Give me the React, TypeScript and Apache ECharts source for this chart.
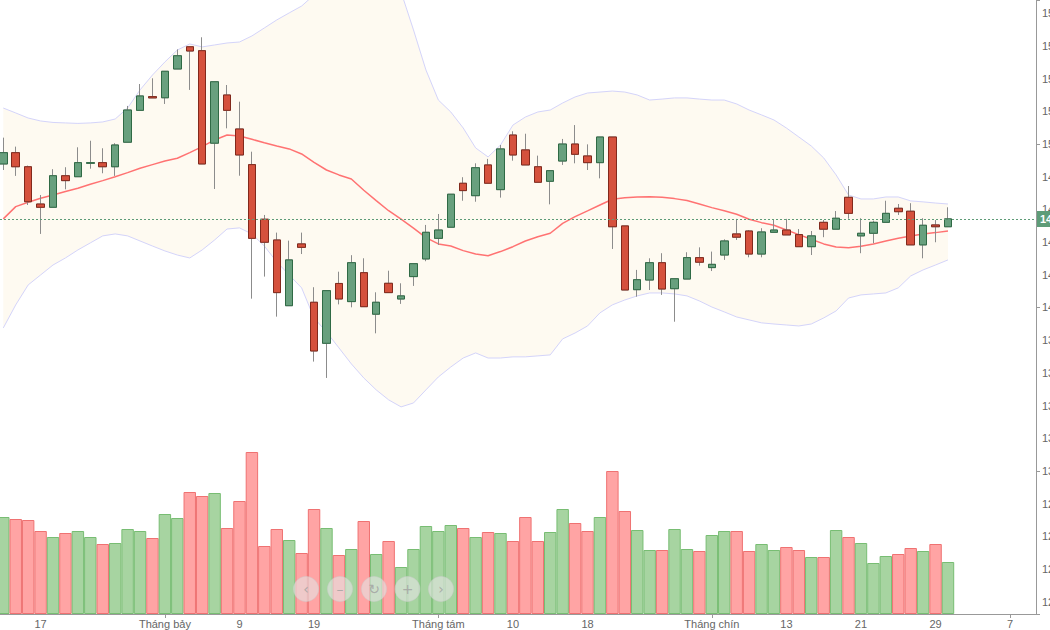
import React, { useEffect, useRef } from "react";
import * as echarts from "echarts";

const opens = [148.78,149.47,148.61,146.33,146.13,148.06,148.00,148.82,148.86,148.61,
150.11,152.06,152.90,152.83,154.59,155.95,155.71,150.05,153.00,150.92,
148.74,145.40,144.13,140.11,143.89,140.32,137.81,141.47,140.36,142.13,
139.59,141.48,140.52,141.89,142.97,144.23,144.91,147.60,146.84,148.72,
147.21,150.55,149.64,148.61,147.72,148.96,150.00,149.27,148.86,150.43,
144.99,141.09,141.68,142.74,141.15,141.74,143.05,142.44,143.21,144.50,
144.68,143.27,144.60,144.74,144.46,143.72,145.21,144.79,146.74,144.38,
144.54,145.21,146.07,145.89,143.83,145.05,144.94];

const closes = [149.47,148.61,146.47,146.13,148.06,147.76,148.86,148.86,148.61,149.94,
152.08,152.94,152.82,154.45,155.40,155.69,148.78,153.81,152.06,149.33,
144.23,143.99,140.91,142.91,143.68,137.34,141.03,140.52,142.74,140.05,
140.32,140.91,140.71,142.68,144.60,144.74,146.93,147.15,148.55,147.60,
149.70,149.33,148.72,147.66,148.37,150.00,149.37,148.86,150.43,144.94,
141.07,141.70,142.74,141.13,141.76,143.05,142.77,142.64,144.07,144.30,
143.27,144.62,144.74,144.44,143.72,144.38,144.79,145.46,145.76,144.54,
145.21,145.76,145.86,143.83,145.03,144.94,145.42];

const lows = [148.41,148.05,146.27,144.50,146.13,147.23,148.00,148.49,148.21,148.05,
150.11,152.06,152.82,152.45,154.59,153.31,148.78,147.25,150.96,148.06,
140.54,141.89,139.44,140.11,143.27,136.69,135.69,140.19,140.01,140.05,
138.42,140.91,140.22,141.32,142.83,143.83,144.91,146.53,146.47,147.60,
146.72,148.98,148.72,147.66,146.31,148.72,148.82,148.41,147.90,143.58,
141.07,140.66,141.07,140.77,139.13,141.74,142.56,142.23,142.91,144.13,
143.07,143.07,144.60,144.44,143.72,143.21,144.30,144.79,145.43,143.32,
143.93,145.21,145.66,143.83,143.01,143.99,144.94];

const highs = [150.39,149.84,148.68,146.88,148.46,148.58,149.80,150.20,149.74,150.05,
152.33,153.67,154.02,154.45,155.79,155.95,156.53,153.81,153.61,152.59,
149.53,145.66,144.58,144.09,144.58,141.24,141.03,142.19,143.20,143.01,
140.93,142.25,141.48,142.68,145.05,145.72,146.93,147.97,148.82,149.09,
149.94,150.78,150.63,149.29,148.37,150.31,151.16,149.98,150.43,150.43,
144.99,142.30,143.01,143.32,141.76,143.38,143.68,143.42,144.17,145.42,
144.74,144.85,145.35,145.42,144.80,144.68,145.35,145.90,147.43,145.46,
145.31,146.53,146.33,146.38,145.46,145.35,146.13];

const volumes = [1455,1425,1410,1245,1155,1215,1245,1155,1050,1065,
1275,1245,1140,1500,1440,1830,1770,1815,1290,1695,
2430,1020,1275,1110,915,1575,1290,885,975,1395,
900,1095,705,975,1320,1245,1335,1290,1155,1230,
1215,1095,1455,1095,1230,1575,1365,1245,1455,2145,
1545,1260,960,960,1275,975,945,1185,1245,1245,
945,1050,960,1005,960,855,855,1260,1155,1065,
765,870,900,990,945,1050,780];

const smaValues = [145.42,146.17,146.44,146.68,146.88,147.09,147.29,147.54,147.76,148.00,
148.25,148.52,148.74,148.96,149.13,149.47,149.84,150.25,150.55,150.49,
150.29,150.08,149.88,149.70,149.39,148.88,148.41,148.11,147.86,147.17,
146.54,145.92,145.40,144.85,144.27,143.89,143.76,143.48,143.27,143.17,
143.42,143.72,144.07,144.33,144.54,145.15,145.56,145.91,146.27,146.62,
146.72,146.76,146.78,146.74,146.66,146.54,146.33,146.11,145.92,145.70,
145.40,145.19,145.03,144.74,144.46,144.17,143.89,143.70,143.66,143.75,
143.89,144.07,144.24,144.38,144.50,144.58,144.68];

const upperBand = [152.20,151.90,151.59,151.41,151.32,151.29,151.26,151.29,151.35,151.53,
152.20,153.31,154.22,155.02,155.75,156.12,155.94,156.06,156.18,156.24,
156.61,157.10,157.59,158.02,158.44,159.12,160.03,160.65,160.95,161.13,
160.95,160.34,159.30,156.98,154.53,152.69,151.96,150.98,149.76,149.21,
149.94,151.16,151.65,151.96,152.08,152.51,152.88,153.12,153.18,153.24,
153.18,153.00,152.69,152.75,152.82,152.82,152.75,152.69,152.69,152.45,
152.08,151.78,151.47,150.98,150.43,149.88,149.15,148.11,146.88,146.64,
146.64,146.76,146.76,146.52,146.46,146.39,146.33];

const lowerBand = [138.75,140.16,141.38,141.99,142.60,143.03,143.52,143.95,144.38,144.50,
144.38,144.07,143.76,143.46,143.21,143.03,143.52,144.13,144.80,144.87,
144.50,143.76,142.79,141.99,141.20,139.36,138.50,137.53,136.55,135.69,
134.96,134.35,133.92,134.16,134.96,135.75,136.36,136.91,137.22,136.91,
136.91,136.98,136.98,137.04,137.10,138.08,138.44,138.87,139.67,140.16,
140.46,140.71,140.89,140.89,140.83,140.71,140.40,140.03,139.73,139.42,
139.24,139.06,138.99,138.93,138.87,138.99,139.36,139.79,140.58,140.77,
140.83,140.89,141.20,141.93,142.30,142.60,142.91];

const xTickValues = [3, 13, 19, 25, 35, 41, 47, 57, 63, 69, 75, 81];
const xTickLabels = ["17", "Tháng bảy", "9", "19", "Tháng tám", "10", "18", "Tháng chín", "13", "21", "29", "7"];
const xMajorTicks = [13, 35, 57, 81];
const yTickValues = [122, 124, 126, 128, 130, 132, 134, 136, 138, 140, 142, 144, 146, 148, 150, 152, 154, 156, 158];

const GREEN_FILL = "#68a07e";
const GREEN_BORDER = "#2f6a45";
const RED_FILL = "#d5513d";
const RED_BORDER = "#82291c";
const WICK = "#8c8c8c";
const BAND_LINE = "#d4d4fa";

export default function App() {
  const ref = useRef<HTMLDivElement>(null);
  useEffect(() => {
    document.body.style.margin = "0";
    document.body.style.overflow = "hidden";
    const chart = echarts.init(ref.current!, null, { renderer: "svg" });
    const idx = opens.map((_, i) => i);
    const candleFull = idx.map((i) => [i, opens[i], closes[i], lows[i], highs[i]]);
    const candleBody = idx.map((i) => [
      i,
      opens[i],
      closes[i],
      Math.min(opens[i], closes[i]),
      Math.max(opens[i], closes[i]),
    ]);
    const volData = idx.map((i) => {
      const up = closes[i] >= opens[i];
      return {
        value: [i, volumes[i]],
        itemStyle: {
          color: up ? "#a7d4a1" : "#ffa4a4",
          borderColor: up ? "#78bd73" : "#ef7272",
          borderWidth: 1,
        },
      };
    });
    const lastClose = closes[closes.length - 1];

    const navX = [306, 340, 374, 407.5, 441];
    const navIcons = ["‹", "–", "↻", "+", "›"];
    const graphic: any[] = [];
    navX.forEach((x, k) => {
      graphic.push({
        type: "circle",
        shape: { cx: x, cy: 589, r: 12.5 },
        style: { fill: "rgba(228,228,228,0.6)", stroke: "rgba(205,205,205,0.5)", lineWidth: 1 },
        z: 100,
        silent: true,
      });
      graphic.push({
        type: "text",
        x: x,
        y: 589,
        style: {
          text: navIcons[k],
          fill: "rgba(160,160,160,0.8)",
          font: "14px 'DejaVu Sans', sans-serif",
          align: "center",
          verticalAlign: "middle",
        },
        z: 101,
        silent: true,
      });
    });

    const option: any = {
      animation: false,
      backgroundColor: "#ffffff",
      textStyle: { fontFamily: "'Liberation Sans', Arial, sans-serif" },
      grid: {
        left: 0,
        right: 14,
        top: 0,
        bottom: 16,
        containLabel: false,
        outerBoundsMode: "none",
      },
      xAxis: {
        type: "value",
        min: -0.2655,
        max: 83.08,
        axisLine: { show: true, onZero: false, lineStyle: { color: "#999", width: 1 } },
        axisTick: {
          show: true,
          length: 4,
          customValues: xMajorTicks,
          lineStyle: { color: "#999" },
        },
        axisLabel: {
          customValues: xTickValues,
          formatter: (v: number) => {
            const k = xTickValues.indexOf(Math.round(v));
            return k >= 0 ? xTickLabels[k] : "";
          },
          color: "#666",
          fontSize: 11,
          margin: 4,
        },
        splitLine: { show: false },
      },
      yAxis: [
        {
          type: "value",
          position: "right",
          min: 121.25,
          max: 158.81,
          axisLine: { show: true, onZero: false, lineStyle: { color: "#999", width: 1 } },
          axisTick: {
            show: true,
            length: 4,
            lineStyle: { color: "#999" },
          },
          axisLabel: {
            customValues: yTickValues,
            color: "#666",
            fontSize: 11,
            margin: 6,
            formatter: (v: number) => String(v),
          },
          splitLine: { show: false },
          minorTick: { show: false },
          minorSplitLine: { show: false },
        },
        {
          type: "value",
          position: "right",
          min: 0,
          max: 9210,
          show: false,
          axisLine: { show: false, onZero: false },
          axisTick: { show: false },
          axisLabel: { show: false },
          splitLine: { show: false },
        },
      ],
      series: [
        {
          name: "bbFill",
          type: "custom",
          data: idx.map((i) => [i, upperBand[i], lowerBand[i]]),
          encode: { x: 0, y: [1, 2] },
          clip: true,
          silent: true,
          z: 0,
          renderItem: (params: any, api: any) => {
            if (params.dataIndex !== 0) return null;
            const top = idx.map((i) => api.coord([i, upperBand[i]]));
            const bottom = idx
              .slice()
              .reverse()
              .map((i) => api.coord([i, lowerBand[i]]));
            return {
              type: "polygon",
              shape: { points: top.concat(bottom) },
              style: { fill: "#fefaf1", stroke: "none" },
            };
          },
        },
        {
          name: "bbUpper",
          type: "line",
          data: idx.map((i) => [i, upperBand[i]]),
          showSymbol: false,
          symbol: "none",
          lineStyle: { color: BAND_LINE, width: 1 },
          z: 1,
          silent: true,
        },
        {
          name: "bbLower",
          type: "line",
          data: idx.map((i) => [i, lowerBand[i]]),
          showSymbol: false,
          symbol: "none",
          lineStyle: { color: BAND_LINE, width: 1 },
          z: 1,
          silent: true,
        },
        {
          name: "SMA",
          type: "line",
          data: idx.map((i) => [i, smaValues[i]]),
          showSymbol: false,
          symbol: "none",
          lineStyle: { color: "#ff7272", width: 1.5 },
          z: 2,
          silent: true,
        },
        {
          name: "Volume",
          type: "bar",
          yAxisIndex: 1,
          barWidth: 12.43,
          data: volData,
          z: 2,
          silent: true,
        },
        {
          name: "wicks",
          type: "candlestick",
          data: candleFull,
          encode: { x: 0, y: [1, 2, 3, 4] },
          barWidth: 8,
          itemStyle: {
            color: "rgba(0,0,0,0)",
            color0: "rgba(0,0,0,0)",
            borderColor: WICK,
            borderColor0: WICK,
            borderColorDoji: WICK,
            borderWidth: 1,
          },
          z: 3,
          silent: true,
        },
        {
          name: "bodies",
          type: "candlestick",
          data: candleBody,
          encode: { x: 0, y: [1, 2, 3, 4] },
          barWidth: 8,
          itemStyle: {
            color: GREEN_FILL,
            color0: RED_FILL,
            borderColor: GREEN_BORDER,
            borderColor0: RED_BORDER,
            borderColorDoji: GREEN_BORDER,
            borderWidth: 1,
          },
          z: 4,
          silent: true,
          markLine: {
            silent: true,
            symbol: ["none", "none"],
            animation: false,
            data: [{ yAxis: lastClose }],
            lineStyle: { color: "#5e9c78", type: [2, 2], width: 1 },
            label: {
              show: true,
              position: "end",
              distance: 1,
              formatter: lastClose.toFixed(2),
              color: "#ffffff",
              backgroundColor: "#5e9c78",
              padding: [3, 3, 2, 3],
              fontSize: 11,
              fontWeight: "bold",
            },
          },
        },
      ],
      graphic,
    };
    chart.setOption(option);
    return () => chart.dispose();
  }, []);
  return <div ref={ref} style={{ width: 1050, height: 630 }} />;
}
